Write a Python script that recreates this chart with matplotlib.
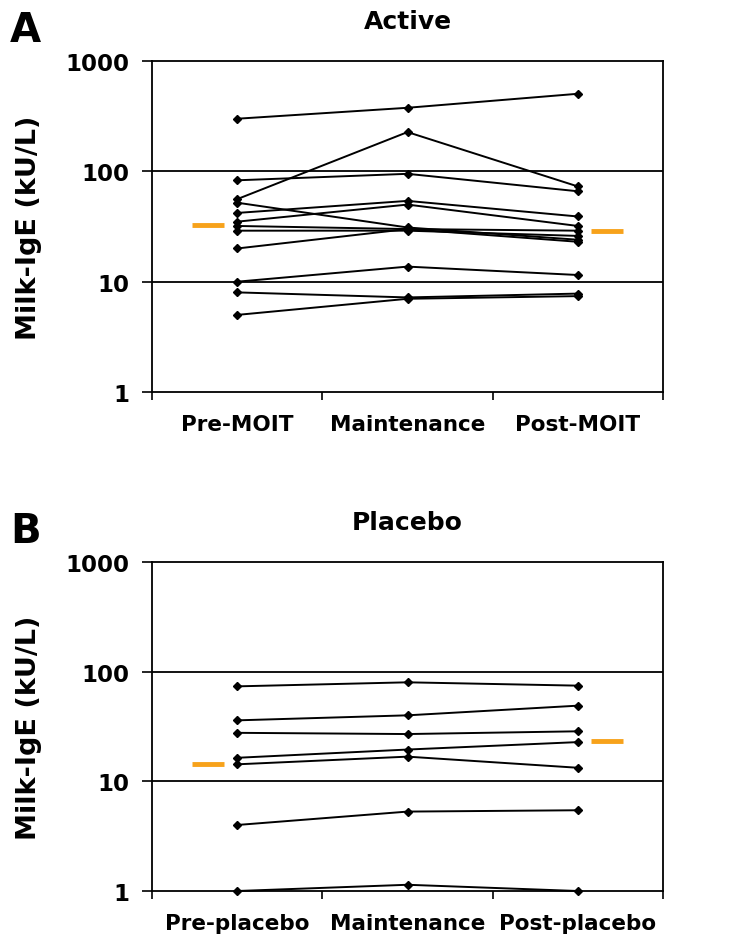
import numpy as np
import matplotlib
matplotlib.use("Agg")
from matplotlib import pyplot as plt
from matplotlib.ticker import FixedLocator, NullFormatter


# Active group: one row per subject (pre, maintenance, post)
active_labels = ["Pre-MOIT", "Maintenance", "Post-MOIT"]
active_values = [
    [300, 377, 505],
    [56, 227, 73],
    [83, 95, 66],
    [52, 31, 24],
    [42, 54, 39],
    [35, 50, 32],
    [32, 30, 29],
    [29, 29, 26],
    [20, 30, 23],
    [10, 13.7, 11.5],
    [8, 7.2, 7.8],
    [5, 7, 7.4],
]
active_means = [32.5, 29]

# Placebo group
placebo_labels = ["Pre-placebo", "Maintenance", "Post-placebo"]
placebo_values = [
    [73.5, 80, 74.6],
    [36, 40, 49],
    [27.7, 27, 28.6],
    [16.4, 19.5, 22.8],
    [14.3, 16.8, 13.3],
    [4.0, 5.3, 5.45],
    [1.0, 1.14, 1.0],
]
placebo_means = [14.5, 23.2]


def draw_panel(ax, labels, values, means, title, letter):
    x = np.arange(1, len(labels) + 1)
    for row in values:
        ax.plot(x, row, color="black", lw=1.4, marker="D", ms=4,
                clip_on=False, zorder=3)

    # group means as short orange bars beside first and last time point
    ax.plot([x[0] - 0.265, x[0] - 0.08], [means[0]] * 2, color="#f7a21b",
            lw=3.5, solid_capstyle="butt", zorder=3)
    ax.plot([x[-1] + 0.08, x[-1] + 0.265], [means[1]] * 2, color="#f7a21b",
            lw=3.5, solid_capstyle="butt", zorder=3)

    ax.set_yscale("log")
    ax.set_ylim(1, 1000)
    ax.set_xlim(0.5, len(labels) + 0.5)
    ax.set_yticks([1, 10, 100, 1000])
    ax.set_yticklabels(["1", "10", "100", "1000"], fontsize=16.5, fontweight="bold")
    ax.yaxis.set_minor_formatter(NullFormatter())
    ax.tick_params(axis="y", which="minor", length=0)
    ax.tick_params(axis="y", which="major", direction="out", length=7,
                   width=1.2, pad=9)

    ax.set_xticks(x)
    ax.set_xticklabels(labels, fontsize=15.5, fontweight="bold")
    ax.xaxis.set_minor_locator(FixedLocator(np.arange(0.5, len(labels) + 1, 1)))
    ax.tick_params(axis="x", which="major", length=0, pad=16)
    ax.tick_params(axis="x", which="minor", direction="out", length=6, width=1.2)

    for yv in [10, 100]:
        ax.axhline(yv, color="black", lw=1.3, zorder=1)
    for s in ax.spines.values():
        s.set_linewidth(1.3)

    ax.set_ylabel("Milk-IgE (kU/L)", fontsize=19.5, fontweight="bold")
    ax.yaxis.set_label_coords(-0.215, 0.5)
    ax.set_title(title, fontsize=18, fontweight="bold", pad=24)
    ax.text(-0.278, 1.155, letter, transform=ax.transAxes, fontsize=29,
            fontweight="bold", va="top", ha="left")


fig = plt.figure(figsize=(7.5, 9.53), dpi=100)
ax_a = fig.add_axes([0.2027, 0.5876, 0.6813, 0.3473])
ax_b = fig.add_axes([0.2027, 0.0640, 0.6813, 0.3452])

draw_panel(ax_a, active_labels, active_values, active_means, "Active", "A")
draw_panel(ax_b, placebo_labels, placebo_values, placebo_means, "Placebo", "B")

fig.savefig("out.png", dpi=100)
